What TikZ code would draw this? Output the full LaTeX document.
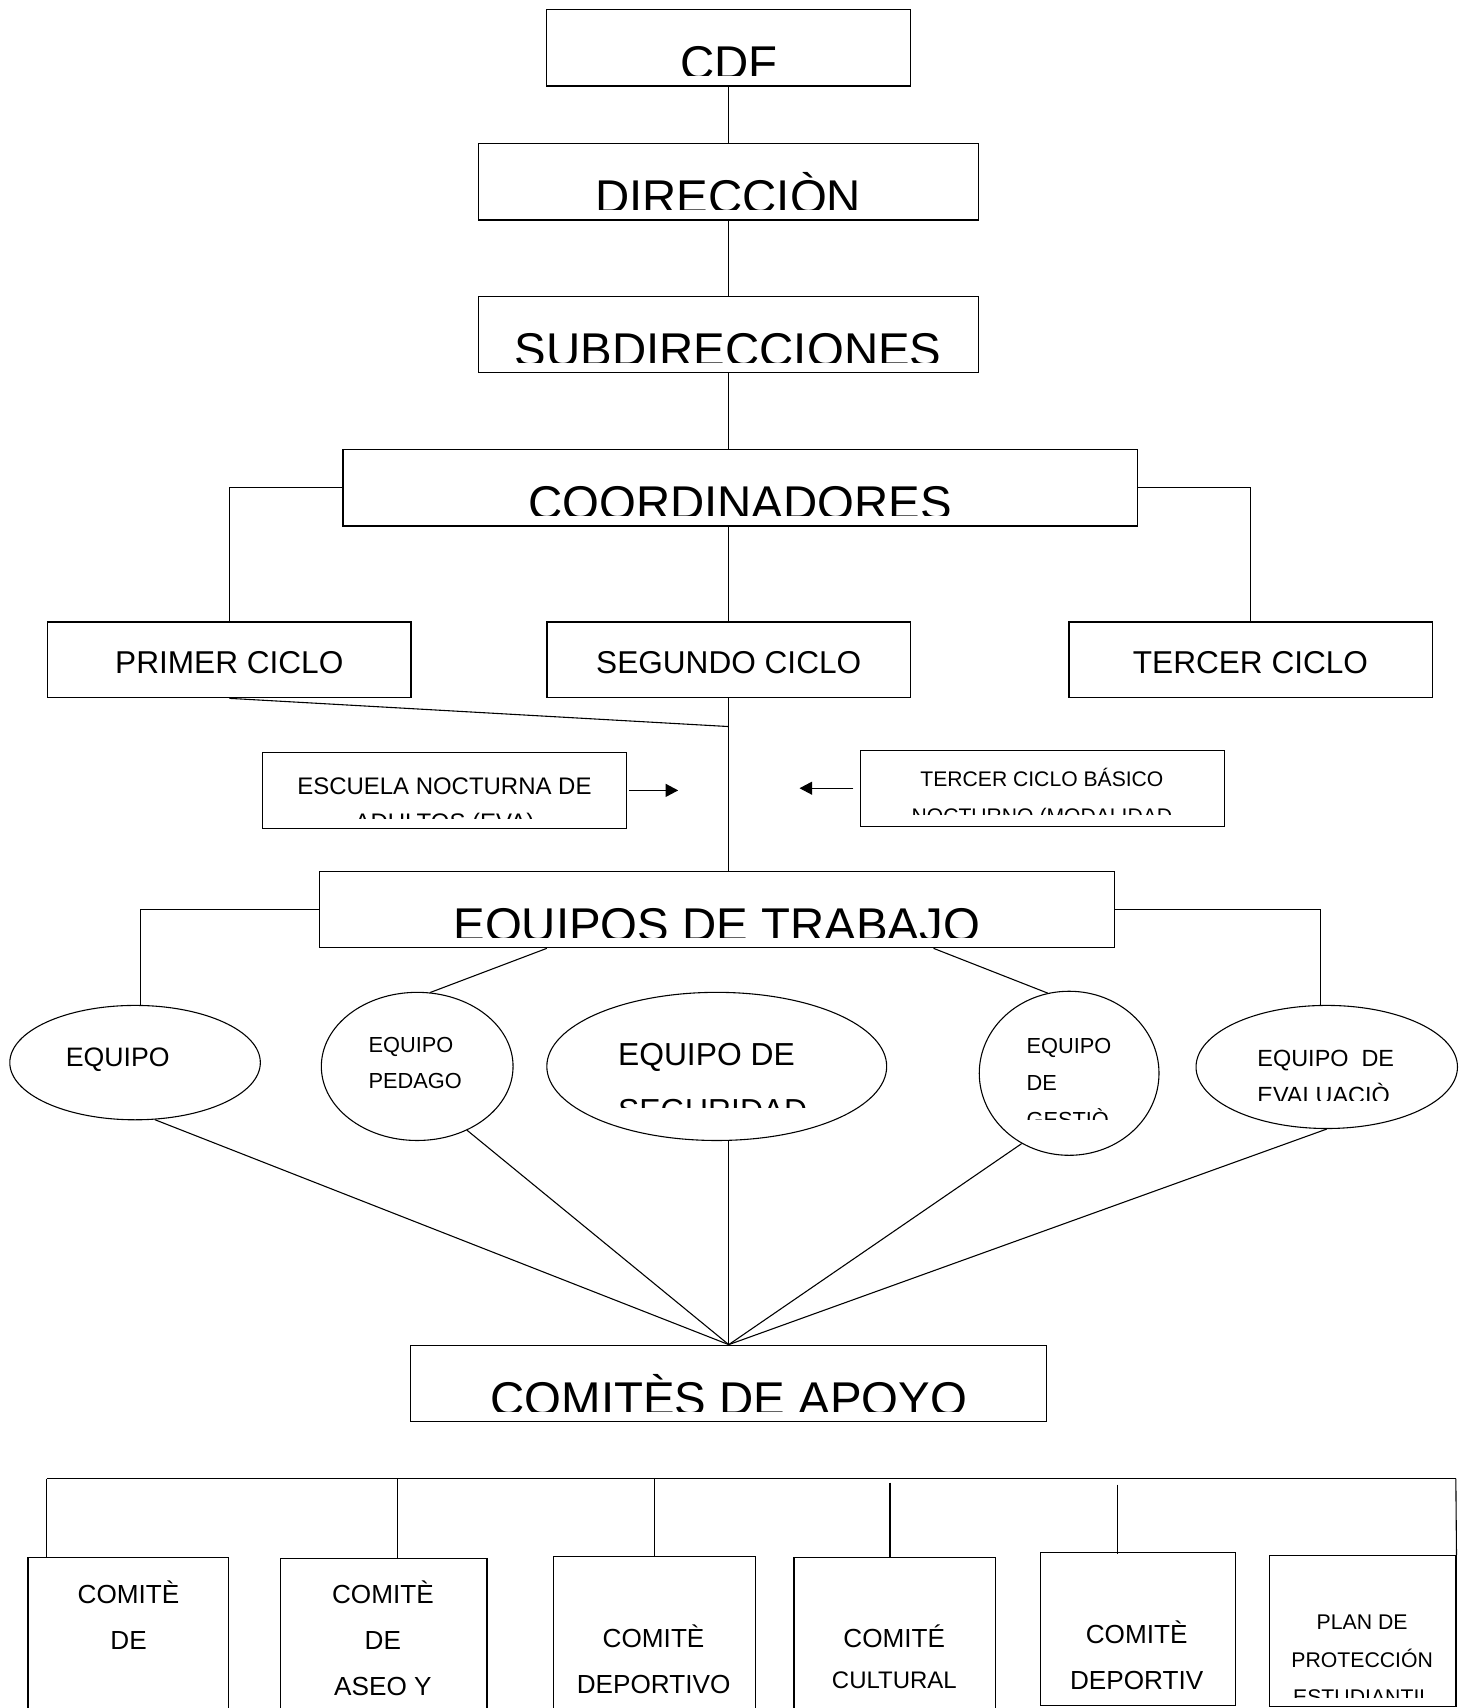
\documentclass[tikz,border=0pt]{standalone}
\usepackage{fontspec}
\setmainfont{Liberation Sans}
\usetikzlibrary{arrows.meta}
\usetikzlibrary{shapes.geometric}

\tikzset{
  caja/.style={draw,line width=0.6pt,inner sep=0pt},
  elipse/.style={draw,ellipse,line width=0.5pt,inner sep=0pt},
  linea/.style={line width=0.5pt},
  titulo/.style={inner sep=0pt,anchor=base,font=\fontsize{21.75}{26}\selectfont},
  ciclo/.style={caja,minimum width=166.75pt,minimum height=34.75pt,text height=12.2pt,text depth=0pt,font=\fontsize{14.5}{17}\selectfont},
  txt/.style={inner sep=0pt,anchor=base,align=center},
  txtl/.style={inner sep=0pt,anchor=base west,align=left},
  flecha/.style={linea,-{Triangle[length=5.8pt,width=6pt]}}
}

\begin{document}
\begin{tikzpicture}[x=0.5pt,y=-0.5pt]
\useasboundingbox (0,0) rectangle (1345,1568);

% cajas de arriba
\node[caja,minimum width=167pt,minimum height=35.25pt] (cdf) at (669,43.75) {};
\node[caja,minimum width=229.5pt,minimum height=35.25pt] (dir) at (668.5,166.75) {};
\node[caja,minimum width=229.5pt,minimum height=35pt] (subdir) at (668.5,307) {};
\node[caja,minimum width=364.5pt,minimum height=35.25pt] (coord) at (679.5,447.75) {};

\begin{scope}
\clip (cdf.north west) rectangle ([yshift=5pt]cdf.south east);
\node[titulo] (cdft) at ([yshift=-32.5pt]cdf.north) {CDF};
\end{scope}
\begin{scope}
\clip (dir.north west) rectangle ([yshift=5pt]dir.south east);
\node[titulo] (dirt) at ([yshift=-32.5pt]dir.north) {DIRECCIÒN};
\end{scope}
\begin{scope}
\clip (subdir.north west) rectangle ([yshift=5pt]subdir.south east);
\node[titulo] (subdirt) at ([yshift=-32.5pt]subdir.north) {SUBDIRECCIONES};
\end{scope}
\begin{scope}
\clip (coord.north west) rectangle ([yshift=5pt]coord.south east);
\node[titulo] (coordt) at ([yshift=-32.5pt]coord.north) {COORDINADORES};
\end{scope}

\draw[linea] (cdf.south) -- (cdf.south |- dir.north);
\draw[linea] (dir.south) -- (subdir.north);
\draw[linea] (subdir.south) -- (subdir.south |- coord.north);

% ciclos
\node[ciclo] (primer) at (210.5,605.75) {PRIMER CICLO};
\node[ciclo] (segundo) at (669,605.75) {SEGUNDO CICLO};
\node[ciclo] (tercer) at (1148,605.75) {TERCER CICLO};

\draw[linea] (coord.west) -| (primer.north);
\draw[linea] (coord.east) -| (tercer.north);
\draw[linea] (coord.south -| segundo.north) -- (segundo.north);

% nocturnos
\node[caja,minimum width=167pt,minimum height=35pt] (escuela) at (408,725.6) {};
\node[caja,minimum width=167pt,minimum height=34.9pt] (tbasico) at (957,723.6) {};
\begin{scope}
\clip (escuela.north west) rectangle (575,751);
\node[txt,font=\fontsize{11}{16.7}\selectfont] (escuelat) at (408,762.8) {ESCUELA NOCTURNA DE\\ADULTOS (EVA)};
\end{scope}
\begin{scope}
\clip (tbasico.north west) rectangle (1124,747.5);
\node[txt,font=\fontsize{9.7}{16.85}\selectfont] (tbasicot) at (956.5,756.1) {TERCER CICLO BÁSICO\\NOCTURNO (MODALIDAD};
\end{scope}

\coordinate (fl1) at (622.6,725.6);
\coordinate (fl2) at (734,723.6);
\draw[flecha] ([xshift=1pt]escuela.east) -- (fl1);
\draw[flecha] ([xshift=-3pt]tbasico.west) -- (fl2);

% equipos de trabajo
\node[caja,minimum width=365pt,minimum height=35pt] (equipos) at (658,835) {};
\begin{scope}
\clip (equipos.north west) rectangle ([yshift=5pt]equipos.south east);
\node[titulo] (equipost) at ([yshift=-32.5pt]equipos.north) {EQUIPOS DE TRABAJO};
\end{scope}

\coordinate (junta) at (669,667);
\draw[linea] (segundo.south) -- (segundo.south |- equipos.north);
\draw[linea] (primer.south) -- (junta);

\node[elipse,minimum width=115pt,minimum height=52.5pt] (e1) at (124,975.5) {};
\node[elipse,minimum width=88pt,minimum height=68pt] (e2) at (383,979) {};
\node[elipse,minimum width=156pt,minimum height=68pt] (e3) at (658,979) {};
\node[elipse,minimum width=82.5pt,minimum height=75.3pt] (e4) at (981.5,985.3) {};
\node[elipse,minimum width=120pt,minimum height=56.5pt] (e5) at (1218,979.5) {};

\node[txtl,font=\fontsize{12.25}{16}\selectfont] (e1t) at (60,979.5) {EQUIPO};
\node[txtl,font=\fontsize{10}{16.5}\selectfont] (e2t) at (338,999.3) {EQUIPO\\PEDAGO};
\begin{scope}
\clip (502,905) rectangle (815,1017);
\node[txtl,font=\fontsize{14.6}{25.75}\selectfont] (e3t) at (567,1029.5) {EQUIPO DE\\SEGURIDAD};
\end{scope}
\begin{scope}
\clip (899,905) rectangle (1064,1028);
\node[txtl,font=\fontsize{10}{17}\selectfont] (e4t) at (942,1035) {EQUIPO\\DE\\GESTIÒ};
\end{scope}
\begin{scope}
\clip (1098,915) rectangle (1338,1010);
\node[txtl,font=\fontsize{10.75}{16.75}\selectfont] (e5t) at (1154,1013) {EQUIPO\ \ DE\\EVALUACIÒ};
\end{scope}

\draw[linea] (equipos.west) -| ([xshift=2.4pt]e1.north);
\draw[linea] (equipos.east) -| ([xshift=-3pt]e5.north);
\draw[linea] ([xshift=-78pt]equipos.south) -- (e2.80);
\draw[linea] ([xshift=99.5pt]equipos.south) -- (e4.105);

% comites de apoyo
\node[caja,minimum width=292pt,minimum height=35pt] (comites) at (669,1270) {};
\begin{scope}
\clip (comites.north west) rectangle ([yshift=5pt]comites.south east);
\node[titulo] (comitest) at ([yshift=-32.5pt]comites.north) {COMITÈS DE APOYO};
\end{scope}

\draw[linea] (e1.-71) -- (comites.north);
\draw[linea] (e2.-52) -- (comites.north);
\draw[linea] (comites.north |- e3.south) -- (comites.north);
\draw[linea] (e4.-124) -- (comites.north);
\draw[linea] (e5.south) -- (comites.north);

% comites de abajo
\node[caja,minimum width=92.15pt,minimum height=85pt] (b1) at (117.85,1515) {};
\node[caja,minimum width=94.75pt,minimum height=84.5pt] (b2) at (352.25,1515.5) {};
\node[caja,minimum width=92.75pt,minimum height=85.6pt] (b3) at (600.75,1514.4) {};
\node[caja,minimum width=92.6pt,minimum height=85.25pt] (b4) at (821.4,1514.75) {};
\node[caja,minimum width=89.3pt,minimum height=70.3pt] (b5) at (1044.7,1495.3) {};
\node[caja,minimum width=85.4pt,minimum height=69.3pt] (b6) at (1251.1,1497.3) {};

\node[txt,font=\fontsize{12}{20.75}\selectfont] (b1t) at (118,1513.9) {COMITÈ\\DE};
\node[txt,font=\fontsize{12}{21}\selectfont] (b2t) at (351.5,1556.4) {COMITÈ\\DE\\ASEO Y};
\node[txt,font=\fontsize{12}{21.5}\selectfont] (b3t) at (600,1555) {COMITÈ\\DEPORTIVO};
\node[txt,font=\fontsize{12}{19}\selectfont] (b4t) at (821,1550) {COMITÉ\\\fontsize{11}{19}\selectfont CULTURAL};
\node[txt,font=\fontsize{12}{21.5}\selectfont] (b5t) at (1043.5,1551.4) {COMITÈ\\DEPORTIV};
\begin{scope}
\clip (b6.north west) rectangle (1336.5,1558);
\node[txt,font=\fontsize{9.75}{17.25}\selectfont] (b6t) at (1250.5,1565) {PLAN DE\\PROTECCIÓN\\ESTUDIANTIL};
\end{scope}

\coordinate (busl) at (43,1357.5);
\coordinate (busr) at (1336.5,1357.5);
\coordinate (t2) at (365,1357.5);
\coordinate (t4) at (817,1361);
\coordinate (t5) at (1026,1363);
\draw[line width=0.6pt] (busl) -- (busr);
\draw[linea] (busl) -- (busl |- b1.north);
\draw[linea] (t2) -- (t2 |- b2.north);
\draw[linea] (b3.north |- busl) -- (b3.north);
\draw[linea] (t4) -- (t4 |- b4.north);
\draw[linea] (t5) -- ([yshift=-1pt]t5 |- b5.north);
\draw[linea] (busr) -- (b6.north east);
\end{tikzpicture}
\end{document}
